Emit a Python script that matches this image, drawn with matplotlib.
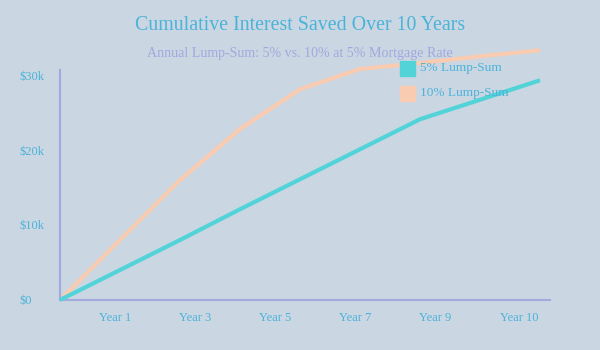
import matplotlib.pyplot as plt
from matplotlib.patches import Rectangle

# data (cumulative interest saved, $k), one point per step
steps = [0, 1, 2, 3, 4, 5, 6, 7, 8]
lump5 = [0, 4.0, 8.0, 12.1, 16.1, 20.1, 24.1, 26.7, 29.3]
lump10 = [0, 8.0, 16.0, 22.8, 28.1, 30.8, 31.6, 32.5, 33.3]

tick_pos = [0.92, 2.25, 3.58, 4.92, 6.25, 7.65]
tick_labels = ['Year 1', 'Year 3', 'Year 5', 'Year 7', 'Year 9', 'Year 10']
y_ticks = [0, 10, 20, 30]
y_labels = ['$0', '$10k', '$20k', '$30k']

bg = '#cbd6e3'
blue_txt = '#4bb3d9'
lav = '#a3a8de'
teal = '#52d3d8'
peach = '#f9cbb0'

plt.rcParams['font.family'] = ['Liberation Serif', 'DejaVu Serif']

fig = plt.figure(figsize=(6, 3.5), dpi=100)
fig.patch.set_facecolor(bg)
ax = fig.add_axes([0.1, 0.1429, 0.8167, 0.6571])
ax.set_facecolor(bg)

ax.plot(steps, lump5, color=teal, lw=3, clip_on=False, solid_capstyle='butt', zorder=3)
ax.plot(steps, lump10, color=peach, lw=3, clip_on=False, solid_capstyle='butt', zorder=2)

ax.set_xlim(0, 8.167)
ax.set_ylim(0, 30.67)

for s in ['top', 'right']:
    ax.spines[s].set_visible(False)
for s in ['left', 'bottom']:
    ax.spines[s].set_color(lav)
    ax.spines[s].set_linewidth(1.5)

ax.set_xticks(tick_pos)
ax.set_xticklabels(tick_labels)
ax.set_yticks(y_ticks)
ax.set_yticklabels(y_labels)
ax.tick_params(axis='x', length=0, pad=9, labelsize=9, labelcolor=blue_txt)
ax.tick_params(axis='y', length=0, pad=29, labelsize=9, labelcolor=blue_txt)
for lab in ax.get_yticklabels():
    lab.set_horizontalalignment('left')

fig.text(0.5, 1 - 25 / 350, 'Cumulative Interest Saved Over 10 Years', ha='center', va='center',
         fontsize=14.3, color=blue_txt)
fig.text(0.5, 1 - 53 / 350, 'Annual Lump-Sum: 5% vs. 10% at 5% Mortgage Rate', ha='center', va='center',
         fontsize=10.1, color=lav)

# legend
for i, (lbl, c) in enumerate([('5% Lump-Sum', teal), ('10% Lump-Sum', peach)]):
    y = 1 - (68 + 25 * i) / 350
    fig.patches.append(Rectangle((400 / 600, y - 7.5 / 350), 15 / 600, 15 / 350,
                                 transform=fig.transFigure, color=c, zorder=5))
    fig.text(420 / 600, y, lbl, ha='left', va='center', fontsize=9.5, color=blue_txt, zorder=6)

fig.savefig('out.png', dpi=100, facecolor=bg)
